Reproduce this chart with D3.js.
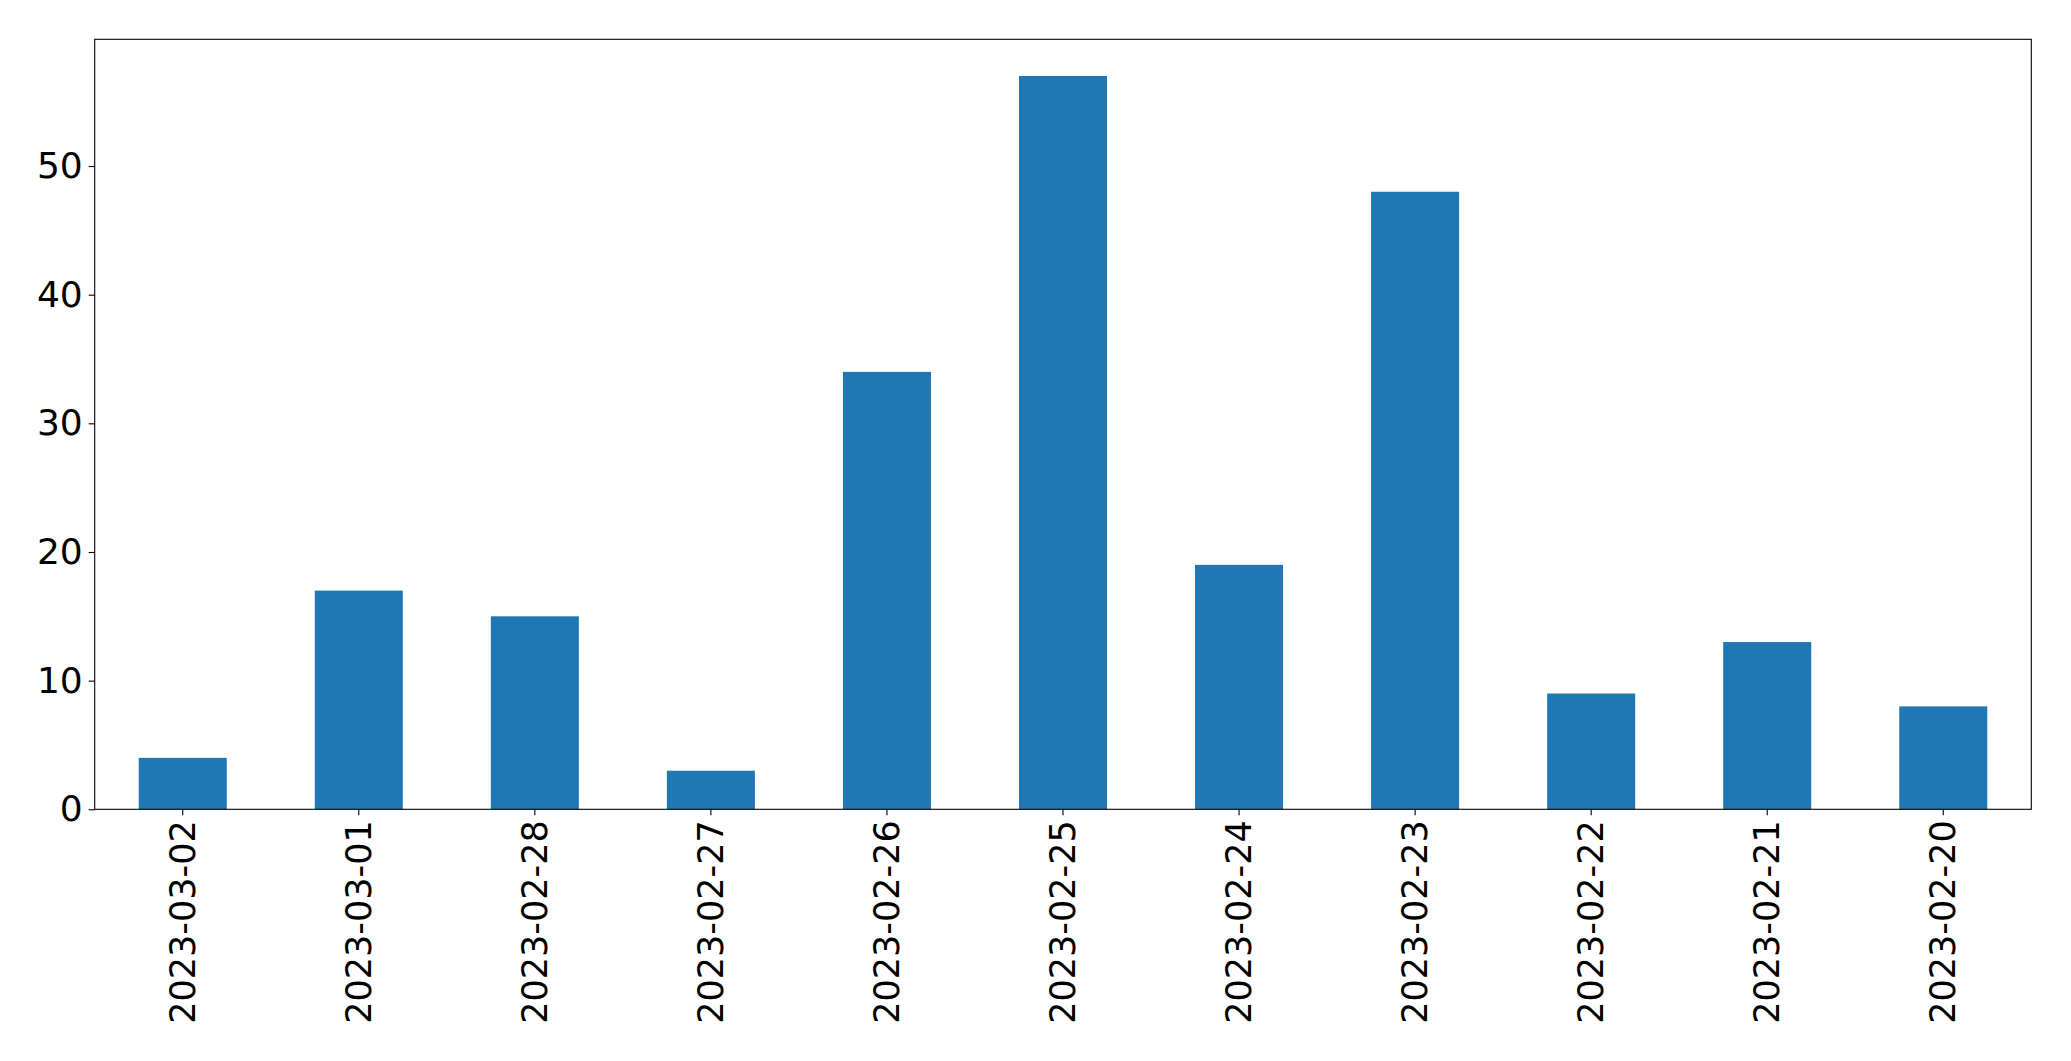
<!DOCTYPE html>
<html>
<head>
<meta charset="utf-8">
<script src="https://cdn.jsdelivr.net/npm/d3@7"></script>
<style>
html,body{margin:0;padding:0;background:#fff;}
svg{display:block;}
</style>
</head>
<body>
<script>
const categories = ["2023-03-02","2023-03-01","2023-02-28","2023-02-27","2023-02-26","2023-02-25","2023-02-24","2023-02-23","2023-02-22","2023-02-21","2023-02-20"];
const values = [4, 17, 15, 3, 34, 57, 19, 48, 9, 13, 8];
const yTicks = [0, 10, 20, 30, 40, 50];

const W = 2071, H = 1061;
const mLeft = 94.7, mRight = 2031.3, mTop = 39.3, mBottom = 809.3;

const svg = d3.select("body").append("svg").attr("width", W).attr("height", H);

const x = d3.scaleBand().domain(categories).range([mLeft, mRight]).paddingInner(0.5).paddingOuter(0.25);
const y = d3.scaleLinear().domain([0, d3.max(values) * 1.05]).range([mBottom, mTop]);

svg.append("g").selectAll("rect").data(values).join("rect")
  .attr("x", (d, i) => x(categories[i]))
  .attr("width", x.bandwidth())
  .attr("y", d => y(d))
  .attr("height", d => y(0) - y(d))
  .attr("fill", "#1f77b4");

const font = "DejaVu Sans";
const yAxis = svg.append("g").attr("transform", `translate(${mLeft},0)`)
  .call(d3.axisLeft(y).tickValues(yTicks).tickSize(6).tickPadding(6).tickFormat(d3.format("d")));
yAxis.select(".domain").remove();
yAxis.selectAll("text").attr("font-family", font).attr("font-size", 36).attr("fill", "#000");
yAxis.selectAll("line").attr("stroke", "#000").attr("stroke-width", 1.1);

const xAxis = svg.append("g").attr("transform", `translate(0,${mBottom})`)
  .call(d3.axisBottom(x).tickSize(6).tickPadding(0));
xAxis.select(".domain").remove();
xAxis.selectAll("line").attr("stroke", "#000").attr("stroke-width", 1.1);
xAxis.selectAll("text")
  .attr("font-family", font).attr("font-size", 35).attr("fill", "#000")
  .attr("text-anchor", "end")
  .attr("dy", null)
  .attr("y", 0)
  .attr("x", 0)
  .attr("dominant-baseline", "central")
  .attr("transform", "translate(0,11) rotate(-90)");

svg.append("rect")
  .attr("x", mLeft).attr("y", mTop)
  .attr("width", mRight - mLeft).attr("height", mBottom - mTop)
  .attr("fill", "none").attr("stroke", "#000").attr("stroke-width", 1.1);
</script>
</body>
</html>
